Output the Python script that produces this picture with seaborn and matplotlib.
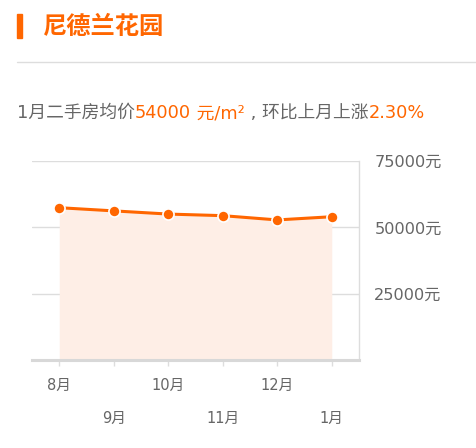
import numpy as np
import pandas as pd
import matplotlib
matplotlib.use('Agg')
import matplotlib.pyplot as plt
import seaborn as sns
from matplotlib.patches import Rectangle
from matplotlib.lines import Line2D

months = ['8月', '9月', '10月', '11月', '12月', '1月']
prices = [57400, 56200, 55000, 54400, 52790, 54000]
y_ticks = [25000, 50000, 75000]
y_labels = ['25000元', '50000元', '75000元']
title = '尼德兰花园'
summary = [('1月二手房均价', '#666666'), ('54000', '#ff6600'), (' 元/m²', '#ff6600'),
           (' , 环比上月上涨', '#666666'), ('2.30%', '#ff6600')]

ORANGE = '#ff6600'
GREY = '#666666'
LATIN_FIRST = ['DejaVu Sans', 'Noto Sans CJK SC']

sns.set_style('white')
plt.rcParams['font.family'] = ['Noto Sans CJK SC', 'DejaVu Sans']

df = pd.DataFrame({'idx': np.arange(len(months)), 'price': prices})

fig = plt.figure(figsize=(4.77, 4.48), dpi=100)
ax = fig.add_axes([32 / 477, 1 - 360 / 448, 327 / 477, 199 / 448])

ax.fill_between(df['idx'], df['price'], 0, color='#feeee6', linewidth=0, zorder=1)
sns.lineplot(data=df, x='idx', y='price', ax=ax, color=ORANGE, linewidth=2.2,
             marker='o', markersize=8, markeredgecolor='white', markeredgewidth=1.2, zorder=3)

ax.set_xlim(-0.5, 5.5)
ax.set_ylim(0, 75000)
ax.set_xlabel('')
ax.set_ylabel('')

# y axis on the right
ax.yaxis.tick_right()
ax.set_yticks(y_ticks)
ax.set_yticklabels(y_labels, fontsize=11.6, color=GREY, family=LATIN_FIRST)
ax.tick_params(axis='y', length=0, pad=11)
ax.grid(axis='y', color='#dddddd', linewidth=1)
ax.set_axisbelow(True)

# alternating month labels
ax.set_xticks([0, 2, 4])
ax.set_xticklabels([months[i] for i in (0, 2, 4)], fontsize=10.5, color=GREY, family=LATIN_FIRST)
ax.set_xticks([1, 3, 5], minor=True)
ax.set_xticklabels([months[i] for i in (1, 3, 5)], minor=True, fontsize=10.5, color=GREY,
                   family=LATIN_FIRST)
ax.tick_params(axis='x', which='major', length=4, width=1, color='#dddddd', pad=9, bottom=True)
ax.tick_params(axis='x', which='minor', length=4, width=1, color='#dddddd', pad=33, bottom=True)

for s in ['top', 'left']:
    ax.spines[s].set_visible(False)
ax.spines['bottom'].set_color('#d8d8d8')
ax.spines['bottom'].set_linewidth(2.2)
ax.spines['right'].set_color('#dddddd')
ax.spines['right'].set_linewidth(1)

# header
fig.patches.append(Rectangle((17 / 477, 1 - 38 / 448), 5 / 477, 24 / 448,
                             transform=fig.transFigure, color=ORANGE))
fig.text(43 / 477, 1 - 27 / 448, title, fontsize=17.5, fontweight='bold', color=ORANGE,
         va='center', ha='left')
fig.lines.append(Line2D([17 / 477, 1], [1 - 62.5 / 448] * 2, transform=fig.transFigure,
                        color='#dddddd', linewidth=1))

# summary line with mixed colours
renderer = fig.canvas.get_renderer()
x = 17 / 477
for txt, col in summary:
    t = fig.text(x, 1 - 113 / 448, txt, fontsize=12.8, color=col, va='center', ha='left',
                 family=LATIN_FIRST)
    bb = t.get_window_extent(renderer=renderer)
    x = bb.x1 / fig.bbox.width

fig.savefig('out.png', dpi=100)
